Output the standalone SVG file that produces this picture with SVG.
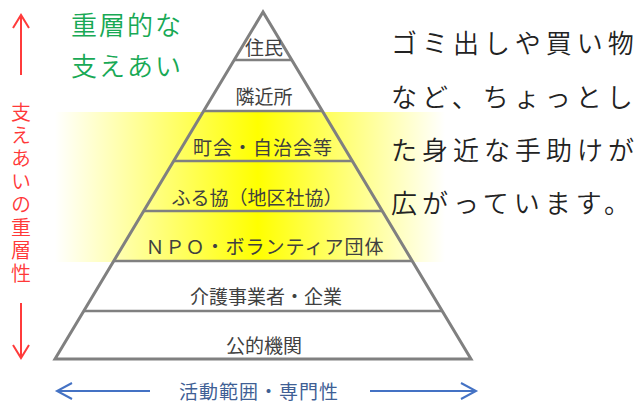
<svg xmlns="http://www.w3.org/2000/svg" width="638" height="405" viewBox="0 0 638 405">
<style>
.lbl{font-family:"Noto Sans CJK JP","Noto Sans CJK SC",sans-serif;font-size:19px;fill:#404040;text-anchor:middle}
.sep{stroke:#808080;stroke-width:2.5;fill:none}
.title{font-family:"Noto Sans CJK JP",sans-serif;font-size:26px;font-weight:350;fill:#18a955;letter-spacing:2px}
.para{font-family:"Noto Sans CJK JP",sans-serif;font-size:26px;font-weight:350;fill:#222;letter-spacing:5px}
.red{font-family:"Noto Sans CJK JP",sans-serif;font-size:20px;font-weight:350;fill:#ff3838;writing-mode:vertical-rl;letter-spacing:3px}
.blue{font-family:"Noto Sans CJK JP",sans-serif;font-size:19px;fill:#3f5f95;text-anchor:middle;letter-spacing:1px}
.ra{stroke:#ff3b3b;stroke-width:2;fill:none}
.ba{stroke:#4472c4;stroke-width:2;fill:none}
</style>
<defs>
<linearGradient id="yg" x1="0" y1="0" x2="1" y2="0">
<stop offset="0" stop-color="#ffffff"/>
<stop offset="0.52" stop-color="#ffff00"/>
<stop offset="1" stop-color="#ffffff"/>
</linearGradient>
</defs>
<rect x="55" y="112" width="390" height="150" fill="url(#yg)"/>
<g id="title">
<text class="title" x="71" y="35">重層的な</text>
<text class="title" x="71" y="76">支えあい</text>
</g>
<g id="paragraph">
<text class="para" x="391" y="53">ゴミ出しや買い物</text>
<text class="para" x="391" y="107">など、ちょっとし</text>
<text class="para" x="391" y="160">た身近な手助けが</text>
<text class="para" x="391" y="213">広がっています。</text>
</g>
<g id="pyramid">
<polygon points="263,12 55,359 471,359" fill="none" stroke="#808080" stroke-width="3"/>
</g>
<g id="layer-jumin"><text class="lbl" x="264" y="55">住民</text></g>
<g id="layer-rinkinjo"><line class="sep" x1="234.2" y1="60" x2="291.8" y2="60"/><text class="lbl" x="264" y="104">隣近所</text></g>
<g id="layer-chokai"><line class="sep" x1="203.7" y1="111" x2="322.3" y2="111"/><text class="lbl" x="263" y="155" letter-spacing="1">町会・自治会等</text></g>
<g id="layer-furukyo"><line class="sep" x1="173.7" y1="161" x2="352.3" y2="161"/><text class="lbl" x="257" y="205">ふる協（地区社協）</text></g>
<g id="layer-npo"><line class="sep" x1="143.7" y1="211" x2="382.3" y2="211"/><text class="lbl" x="265" y="254" letter-spacing="1">ＮＰＯ・ボランティア団体</text></g>
<g id="layer-kaigo"><line class="sep" x1="113.7" y1="261" x2="412.3" y2="261"/><text class="lbl" x="266" y="304">介護事業者・企業</text></g>
<g id="layer-koteki"><line class="sep" x1="83.8" y1="311" x2="442.2" y2="311"/><text class="lbl" x="264" y="353">公的機関</text></g>
<g id="side-label">
<text class="red" x="21" y="102">支えあいの重層性</text>
</g>
<g id="bottom-label">
<text class="blue" x="259" y="399">活動範囲・専門性</text>
</g>
<g id="connectors">
<line class="ra" x1="21" y1="15" x2="21" y2="75"/>
<polyline class="ra" points="13,28 21,15 29,28"/>
<line class="ra" x1="21" y1="303" x2="21" y2="358"/>
<polyline class="ra" points="13,345 21,358 29,345"/>
<line class="ba" x1="57" y1="391" x2="150" y2="391"/>
<polyline class="ba" points="72,383 57,391 72,399"/>
<line class="ba" x1="370" y1="391" x2="476" y2="391"/>
<polyline class="ba" points="461,383 476,391 461,399"/>
</g>
</svg>
